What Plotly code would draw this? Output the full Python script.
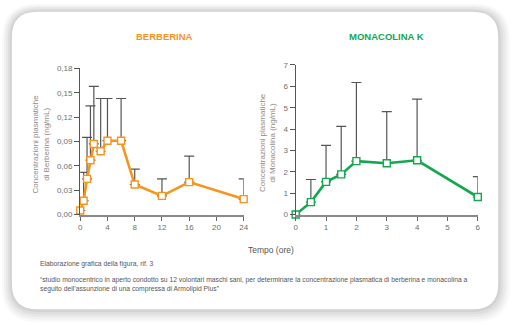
import plotly.graph_objects as go

# --- Berberina plasma concentration (ng/mL) ---
berb_time = [0, 0.5, 1, 1.5, 2, 3, 4, 6, 8, 12, 16, 24]
berb_mean = [0.005, 0.017, 0.044, 0.067, 0.087, 0.078, 0.091, 0.091, 0.037, 0.023, 0.040, 0.019]
berb_top = [0.005, 0.052, 0.095, 0.134, 0.158, 0.143, 0.143, 0.143, 0.056, 0.044, 0.072, 0.044]
berb_xticks = [0, 4, 8, 12, 16, 20, 24]
berb_yticks = [0, 0.03, 0.06, 0.09, 0.12, 0.15, 0.18]
berb_ylabels = ["0,00", "0,03", "0,06", "0,09", "0,12", "0,15", "0,18"]

# --- Monacolina K plasma concentration (ng/mL) ---
mona_time = [0, 0.5, 1, 1.5, 2, 3, 4, 6]
mona_mean = [0.0, 0.58, 1.53, 1.88, 2.50, 2.40, 2.54, 0.82]
mona_top = [0.0, 1.64, 3.24, 4.13, 6.18, 4.82, 5.40, 1.77]
mona_xticks = [0, 1, 2, 3, 4, 5, 6]
mona_yticks = [0, 1, 2, 3, 4, 5, 6, 7]

ORANGE = "#f7941d"
GREEN = "#13a84f"
W, H = 520, 327
FONT = "Liberation Sans, Arial, sans-serif"


def px(x):
    return x / W


def py(y):
    return 1 - y / H


def rounded_rect(x0, y0, x1, y1, r):
    """SVG path (paper coords) of a rounded rectangle given in pixels."""
    pts = [
        f"M {px(x0 + r)} {py(y0)}",
        f"L {px(x1 - r)} {py(y0)}",
        f"Q {px(x1)} {py(y0)} {px(x1)} {py(y0 + r)}",
        f"L {px(x1)} {py(y1 - r)}",
        f"Q {px(x1)} {py(y1)} {px(x1 - r)} {py(y1)}",
        f"L {px(x0 + r)} {py(y1)}",
        f"Q {px(x0)} {py(y1)} {px(x0)} {py(y1 - r)}",
        f"L {px(x0)} {py(y0 + r)}",
        f"Q {px(x0)} {py(y0)} {px(x0 + r)} {py(y0)}",
        "Z",
    ]
    return " ".join(pts)


def upper_err(mean, top):
    return [t - m for m, t in zip(mean, top)]


fig = go.Figure()

fig.add_trace(go.Scatter(
    x=berb_time, y=berb_mean, mode="lines+markers",
    line=dict(color=ORANGE, width=2.6),
    marker=dict(symbol="square", size=7, color="white", line=dict(color=ORANGE, width=1.4)),
    error_y=dict(type="data", symmetric=False, array=upper_err(berb_mean, berb_top),
                 arrayminus=[0] * len(berb_mean), color="#555555", thickness=1.2, width=5),
    xaxis="x", yaxis="y", cliponaxis=False, showlegend=False,
))

fig.add_trace(go.Scatter(
    x=mona_time, y=mona_mean, mode="lines+markers",
    line=dict(color=GREEN, width=2.6),
    marker=dict(symbol="square", size=7, color="white", line=dict(color=GREEN, width=1.4)),
    error_y=dict(type="data", symmetric=False, array=upper_err(mona_mean, mona_top),
                 arrayminus=[0] * len(mona_mean), color="#555555", thickness=1.2, width=5),
    xaxis="x2", yaxis="y2", cliponaxis=False, showlegend=False,
))

tickfont = dict(family=FONT, size=8, color="#6e6e6e")
xcommon = dict(showgrid=False, zeroline=False, showline=True, linecolor="#8a8a8a", linewidth=2,
               ticks="outside", ticklen=4, tickwidth=1, tickcolor="#666666", tickfont=tickfont)
ycommon = dict(showgrid=False, zeroline=False, showline=True, linecolor="#555555", linewidth=1.3,
               ticks="outside", ticklen=5, tickwidth=1, tickcolor="#555555", tickfont=tickfont)

ybot = py(216.5)
fig.update_layout(
    width=W, height=H, autosize=False,
    margin=dict(l=0, r=0, t=0, b=0),
    paper_bgcolor="white", plot_bgcolor="rgba(0,0,0,0)",
    xaxis=dict(domain=[px(79.3), px(245)], range=[0, 24], tickvals=berb_xticks, anchor="y", **xcommon),
    yaxis=dict(domain=[ybot, py(66.3)], range=[0, 0.18], tickvals=berb_yticks, ticktext=berb_ylabels,
               anchor="x", **ycommon),
    xaxis2=dict(domain=[px(297.7), px(482.3)], range=[0, 6], tickvals=mona_xticks, anchor="y2", **xcommon),
    yaxis2=dict(domain=[ybot, py(62.7)], range=[0, 7], tickvals=mona_yticks, anchor="x2", **ycommon),
)

# card with soft shadow
shapes = []
for grow, alpha in [(10, 0.025), (8, 0.03), (6, 0.035), (4, 0.04), (2, 0.05)]:
    shapes.append(dict(type="path", xref="paper", yref="paper", layer="below",
                       path=rounded_rect(10 - grow, 8 - grow * 0.8, 503 + grow * 1.2, 314 + grow * 1.3, 26 + grow),
                       fillcolor=f"rgba(0,0,0,{alpha})", line=dict(width=0)))
shapes.append(dict(type="path", xref="paper", yref="paper", layer="below",
                   path=rounded_rect(10, 8, 503, 314, 26), fillcolor="white", line=dict(width=0)))
fig.update_layout(shapes=shapes)

ytitle = dict(family=FONT, size=8, color="#8f8a86")
notes = [
    dict(text="<b>BERBERINA</b>", x=px(165), y=py(33), font=dict(family=FONT, size=9.5, color=ORANGE)),
    dict(text="<b>MONACOLINA K</b>", x=px(390), y=py(33), font=dict(family=FONT, size=9.5, color=GREEN)),
    dict(text="Concentrazioni plasmatiche<br>di Berberina (ng/mL)", x=px(39), y=py(144),
         textangle=-90, font=ytitle),
    dict(text="Concentrazioni plasmatiche<br>di Monacolina (ng/mL)", x=px(268.5), y=py(142),
         textangle=-90, font=ytitle),
    dict(text="Tempo (ore)", x=px(272.5), y=py(253), font=dict(family=FONT, size=8.5, color="#555555")),
]
for n in notes:
    fig.add_annotation(xref="paper", yref="paper", xanchor="center", yanchor="middle",
                       showarrow=False, **n)

foot = dict(family=FONT, size=6.75, color="#555555")
fig.add_annotation(xref="paper", yref="paper", x=px(36), y=py(267), xanchor="left", yanchor="middle",
                   showarrow=False, text="Elaborazione grafica della figura, rif. 3", font=foot)
fig.add_annotation(xref="paper", yref="paper", x=px(36), y=py(288), xanchor="left", yanchor="middle",
                   showarrow=False, align="left", font=foot,
                   text="\u201cstudio monocentrico in aperto condotto su 12 volontari maschi sani, per determinare "
                        "la concentrazione plasmatica di berberina e monacolina a<br>seguito dell\u2019assunzione "
                        "di una compressa di Armolipid Plus\u201d")

fig.write_html("out.html")
